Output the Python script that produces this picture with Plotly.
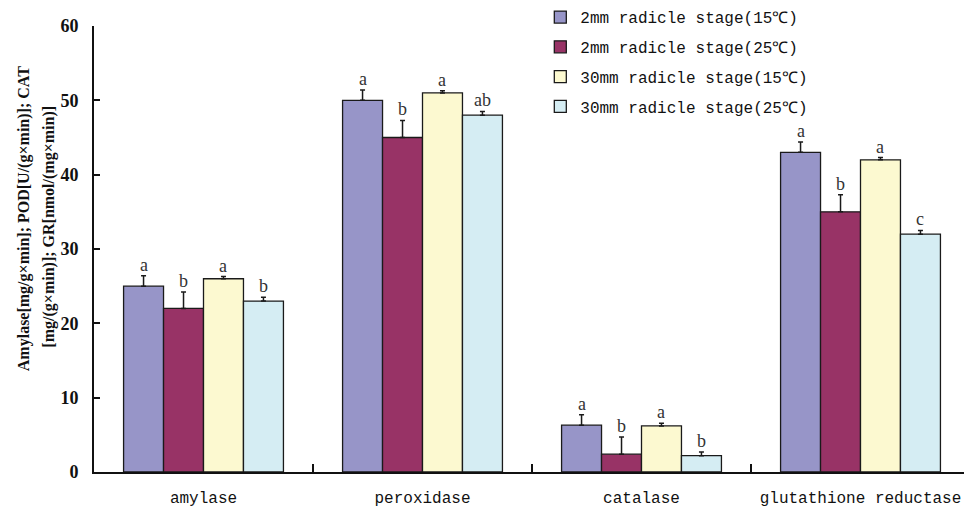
import plotly.graph_objects as go

# Enzyme activities by radicle stage and temperature
categories = ["amylase", "peroxidase", "catalase", "glutathione reductase"]
series_names = [
    "2mm radicle stage(15℃)",
    "2mm radicle stage(25℃)",
    "30mm radicle stage(15℃)",
    "30mm radicle stage(25℃)",
]
values = [
    [25.0, 50.0, 6.3, 43.0],
    [22.0, 45.0, 2.4, 35.0],
    [26.0, 51.0, 6.2, 42.0],
    [23.0, 48.0, 2.2, 32.0],
]
errors = [
    [1.4, 1.4, 1.4, 1.4],
    [2.2, 2.3, 2.3, 2.3],
    [0.3, 0.3, 0.35, 0.3],
    [0.5, 0.5, 0.5, 0.5],
]
letters = [
    ["a", "a", "a", "a"],
    ["b", "b", "b", "b"],
    ["a", "a", "a", "a"],
    ["b", "ab", "b", "c"],
]
y_ticks = [0, 10, 20, 30, 40, 50, 60]

colors = ["#9795C8", "#983366", "#FCF9D0", "#D5EDF3"]

BARGAP = 0.27
n = len(series_names)
bar_w = (1 - BARGAP) / n

fig = go.Figure()
for i, name in enumerate(series_names):
    fig.add_trace(go.Bar(
        x=categories,
        y=values[i],
        name=name,
        legendgroup=name,
        marker=dict(color=colors[i], line=dict(color="#1a1a1a", width=1.3)),
        error_y=dict(
            type="data", symmetric=False, array=errors[i],
            arrayminus=[0] * len(categories),
            color="#1a1a1a", thickness=1.5, width=2.5,
        ),
    ))

# significance letters above each error bar
annotations = []
for i in range(n):
    offset = (i - (n - 1) / 2) * bar_w
    for j in range(len(categories)):
        annotations.append(dict(
            x=j + offset, y=values[i][j] + errors[i][j],
            xref="x", yref="y", text=letters[i][j], showarrow=False,
            xanchor="center", yanchor="bottom", yshift=-1,
            font=dict(family="Liberation Serif", size=18, color="#333333"),
        ))

title_font = dict(family="Liberation Serif", size=16, color="#111111")
annotations.append(dict(
    x=-0.081, y=0.568, xref="paper", yref="paper", textangle=-90,
    text="<b>Amylase[mg/g×min]; POD[U/(g×min)]; CAT</b>", showarrow=False,
    xanchor="center", yanchor="middle", font=title_font,
))
annotations.append(dict(
    x=-0.0518, y=0.55, xref="paper", yref="paper", textangle=-90,
    text="<b>[mg/(g×min)]; GR[nmol/(mg×min)]</b>", showarrow=False,
    xanchor="center", yanchor="middle", font=title_font,
))

fig.update_layout(
    width=964, height=508,
    margin=dict(l=94, r=0, t=25, b=31),
    paper_bgcolor="white", plot_bgcolor="white",
    barmode="group", bargap=BARGAP, bargroupgap=0,
    showlegend=True,
    legend=dict(
        x=0.513, y=1.058, xanchor="left", yanchor="top",
        font=dict(family="Liberation Mono", size=16, color="#111111"),
        tracegroupgap=6, bgcolor="rgba(0,0,0,0)",
        itemwidth=30,
    ),
    annotations=annotations,
    xaxis=dict(
        type="category", range=[-0.5, 3.5 - 6 / 219],
        showline=True, linecolor="#111111", linewidth=2,
        ticks="inside", tickson="boundaries", ticklen=8, tickwidth=2,
        tickcolor="#111111", showgrid=False, zeroline=False,
        tickfont=dict(family="Liberation Mono", size=16, color="#111111"),
        ticklabelstandoff=10,
    ),
    yaxis=dict(
        range=[0, 60], tickvals=y_ticks,
        showline=True, linecolor="#111111", linewidth=2,
        ticks="inside", ticklen=6, tickwidth=2, tickcolor="#111111",
        showgrid=False, zeroline=False,
        tickfont=dict(family="Liberation Serif", size=18, color="#111111",
                      weight="bold"),
        ticklabelstandoff=10,
    ),
)

fig.write_html("out.html")
